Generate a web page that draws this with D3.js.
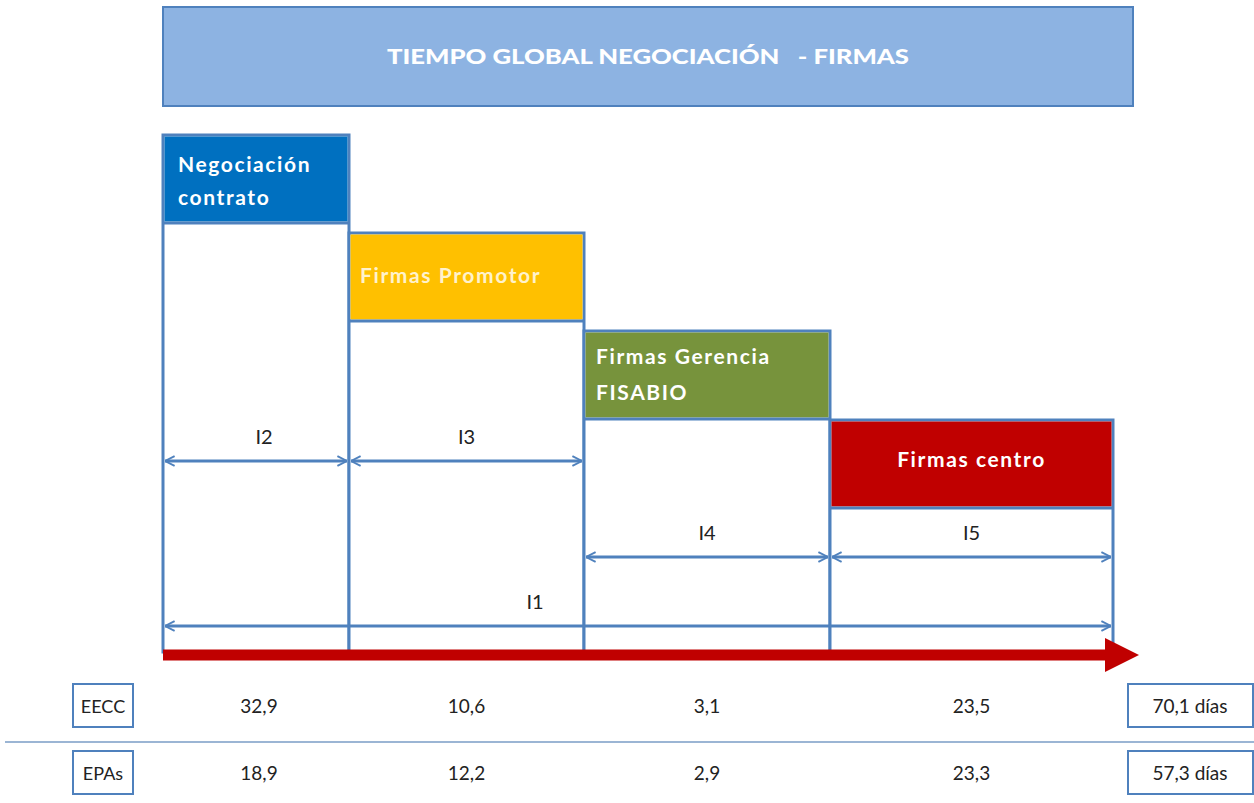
<!DOCTYPE html>
<html>
<head>
<meta charset="utf-8">
<script src="https://cdn.jsdelivr.net/npm/d3@7"></script>
<style>
  body { margin: 0; background: #fff; }
  svg { display: block; font-family: "Lato", "Open Sans", sans-serif; }
</style>
</head>
<body>
<svg width="1254" height="803"></svg>
<script>
var title = "TIEMPO GLOBAL NEGOCIACIÓN   - FIRMAS";
var phases = [["Negociación", "contrato"], ["Firmas Promotor"], ["Firmas Gerencia", "FISABIO"], ["Firmas centro"]];
var phaseColors = ["#0070c0", "#ffc000", "#77933c", "#c00000"];
var intervals = ["I2", "I3", "I4", "I5"];
var rowNames = ["EECC", "EPAs"];
var eecc = ["32,9", "10,6", "3,1", "23,5"];
var epas = ["18,9", "12,2", "2,9", "23,3"];
var totals = ["70,1 días", "57,3 días"];

var svg = d3.select("svg");
var blue = "#4f81bd";

// column edges (not proportional to time in the original)
var x = d3.scaleLinear().domain([0, 1, 2, 3, 4]).range([163, 349, 584, 830, 1113]);
var yTop = d3.scaleLinear().domain([0, 1, 2, 3]).range([135, 233, 331, 420]);
var boxH = 88, baseY = 652;

// arrow markers
var defs = svg.append("defs");
defs.append("marker").attr("id", "ab")
  .attr("viewBox", "0 0 10 10").attr("refX", 10).attr("refY", 5)
  .attr("markerWidth", 12).attr("markerHeight", 12).attr("orient", "auto-start-reverse")
  .attr("markerUnits", "userSpaceOnUse")
  .append("path").attr("d", "M2,1 L10,5 L2,9").attr("fill", "none")
  .attr("stroke", blue).attr("stroke-width", 1.6);
defs.append("marker").attr("id", "ar")
  .attr("viewBox", "0 0 10 10").attr("refX", 0).attr("refY", 5)
  .attr("markerWidth", 34).attr("markerHeight", 34).attr("orient", "auto")
  .attr("markerUnits", "userSpaceOnUse")
  .append("path").attr("d", "M0,0 L10,5 L0,10 Z").attr("fill", "#c00000");

// header
svg.append("rect").attr("x", x(0)).attr("y", 7).attr("width", x(4) + 20 - x(0)).attr("height", 99)
  .attr("fill", "#8db3e2").attr("stroke", blue).attr("stroke-width", 2);
svg.append("text").attr("x", (x(0) + x(4) + 20) / 2).attr("y", 64)
  .attr("text-anchor", "middle").attr("fill", "#fff").attr("font-weight", "900")
  .attr("font-size", 20).attr("textLength", 522).attr("lengthAdjust", "spacingAndGlyphs")
  .style("white-space", "pre").text(title);

// columns
var idx = d3.range(phases.length);
var cols = svg.append("g").selectAll("g").data(idx).enter().append("g");
cols.append("rect")
  .attr("x", function (i) { return x(i); })
  .attr("y", function (i) { return yTop(i); })
  .attr("width", function (i) { return x(i + 1) - x(i); })
  .attr("height", function (i) { return baseY - yTop(i); })
  .attr("fill", "#fff").attr("stroke", blue).attr("stroke-width", 3);
cols.append("rect")
  .attr("x", function (i) { return x(i) + 1.5; })
  .attr("y", function (i) { return yTop(i) + 1.5; })
  .attr("width", function (i) { return x(i + 1) - x(i) - 3; })
  .attr("height", boxH - 3)
  .attr("fill", function (i) { return phaseColors[i]; });
cols.append("line")
  .attr("x1", function (i) { return x(i); }).attr("x2", function (i) { return x(i + 1); })
  .attr("y1", function (i) { return yTop(i) + boxH; }).attr("y2", function (i) { return yTop(i) + boxH; })
  .attr("stroke", blue).attr("stroke-width", 3);

var textPos = [
  { dx: 15, anchor: "start", y: [172, 205] },
  { dx: 11, anchor: "start", y: [283] },
  { dx: 12, anchor: "start", y: [364, 400] },
  { dx: 0, anchor: "middle", y: [467] }
];
cols.each(function (i) {
  var p = textPos[i];
  var tx = p.anchor === "start" ? x(i) + p.dx : (x(i) + x(i + 1)) / 2;
  d3.select(this).selectAll("text.ph").data(phases[i]).enter().append("text")
    .attr("class", "ph")
    .attr("x", tx).attr("y", function (d, k) { return p.y[k]; })
    .attr("text-anchor", p.anchor)
    .attr("fill", i === 1 ? "#fff2cc" : "#fff")
    .attr("font-weight", "bold").attr("font-size", 21)
    .attr("letter-spacing", 1.6)
    .text(function (d) { return d; });
});

// interval arrows
var arrowY = [461, 461, 557, 557];
var arrows = svg.append("g");
idx.forEach(function (i) {
  arrows.append("line")
    .attr("x1", x(i) + 2).attr("x2", x(i + 1) - 2)
    .attr("y1", arrowY[i]).attr("y2", arrowY[i])
    .attr("stroke", blue).attr("stroke-width", 3)
    .attr("marker-start", "url(#ab)").attr("marker-end", "url(#ab)");
  arrows.append("text")
    .attr("x", (x(i) + x(i + 1)) / 2 + (i === 0 ? 8 : 0)).attr("y", arrowY[i] - 17)
    .attr("text-anchor", "middle").attr("font-size", 20).attr("fill", "#222")
    .text(intervals[i]);
});
arrows.append("line")
  .attr("x1", x(0) + 2).attr("x2", x(4) - 2).attr("y1", 626).attr("y2", 626)
  .attr("stroke", blue).attr("stroke-width", 3)
  .attr("marker-start", "url(#ab)").attr("marker-end", "url(#ab)");
arrows.append("text").attr("x", 535).attr("y", 609)
  .attr("text-anchor", "middle").attr("font-size", 20).attr("fill", "#222").text("I1");

// red time arrow
svg.append("line").attr("x1", x(0)).attr("x2", x(4) - 8).attr("y1", 655).attr("y2", 655)
  .attr("stroke", "#c00000").attr("stroke-width", 11).attr("marker-end", "url(#ar)");

// table
var rows = [eecc, epas];
var rowY = [706, 773];
svg.append("line").attr("x1", 5).attr("x2", 1254).attr("y1", 742).attr("y2", 742)
  .attr("stroke", "#7a9cc6").attr("stroke-width", 1.5);
rows.forEach(function (vals, r) {
  var g = svg.append("g");
  g.append("rect").attr("x", 73).attr("y", rowY[r] - 22).attr("width", 60).attr("height", 43)
    .attr("fill", "#fff").attr("stroke", blue).attr("stroke-width", 2);
  g.append("text").attr("x", 103).attr("y", rowY[r] + 7).attr("text-anchor", "middle")
    .attr("font-size", 18).attr("fill", "#222").text(rowNames[r]);
  g.selectAll("text.v").data(vals).enter().append("text").attr("class", "v")
    .attr("x", function (d, i) { return (x(i) + x(i + 1)) / 2 + (i === 0 ? 3 : 0); })
    .attr("y", rowY[r] + 7).attr("text-anchor", "middle")
    .attr("font-size", 19).attr("fill", "#222").text(function (d) { return d; });
  g.append("rect").attr("x", 1128).attr("y", rowY[r] - 22).attr("width", 125).attr("height", 43)
    .attr("fill", "#fff").attr("stroke", blue).attr("stroke-width", 2);
  g.append("text").attr("x", 1190).attr("y", rowY[r] + 7).attr("text-anchor", "middle")
    .attr("font-size", 19).attr("fill", "#222").text(totals[r]);
});
</script>
</body>
</html>
